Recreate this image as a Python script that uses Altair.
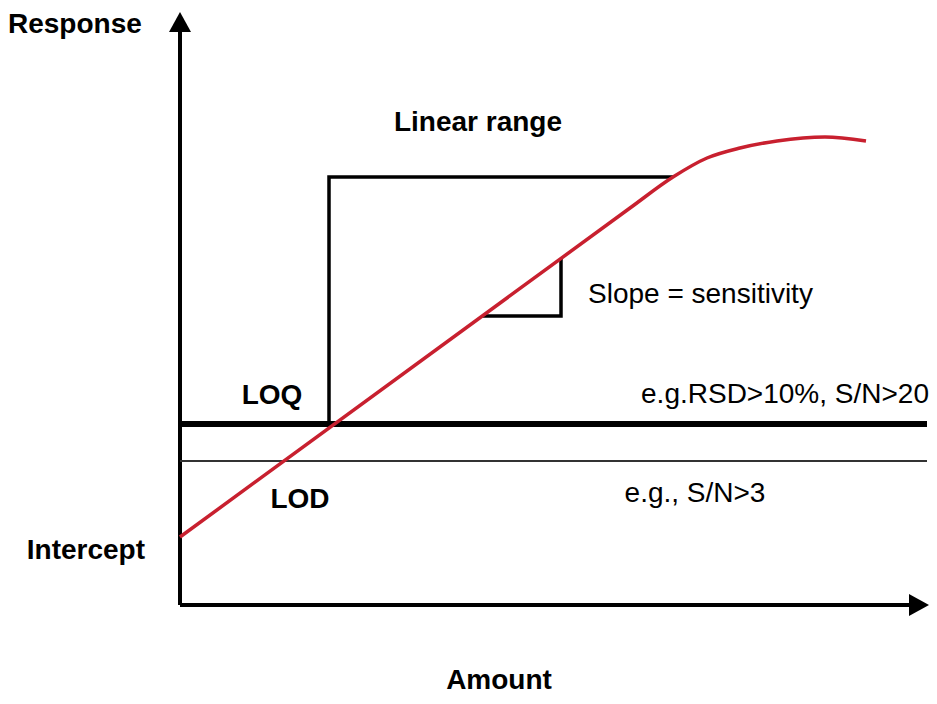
import altair as alt
import pandas as pd

# Coordinates in diagram units: amount (x) and response (y), origin at axis corner
curve_amount = [0, 450, 493, 527, 560, 597, 645, 686]
curve_response = [68, 397, 428, 447, 457, 464, 468, 464]

loq_level = 181
lod_level = 144
line_end = 747

box_x = [149, 149, 493]
box_y = [181, 428, 428]

tri_x = [381, 381, 302]
tri_y = [347, 289, 289]

axis_x_end = 735
axis_y_end = 575

labels_bold = ["Response", "Linear range", "LOQ", "LOD", "Intercept", "Amount"]
labels_bold_x = [-172, 298, 92, 120, -35, 319]
labels_bold_y = [580, 482, 209, 105, 54, -76]
labels_bold_align = ["left", "center", "center", "center", "right", "center"]

labels_reg = ["Slope = sensitivity", "e.g.RSD>10%, S/N>20", "e.g., S/N>3"]
labels_reg_x = [408, 749, 515]
labels_reg_y = [310, 210, 111]
labels_reg_align = ["left", "right", "center"]

W, H = 921, 688
xs = alt.Scale(domain=[-172, 749], nice=False, zero=False)
ys = alt.Scale(domain=[-91, 597], nice=False, zero=False)
FONT = "Liberation Sans"
RED = "#c8202f"
FS = 28


def X(f="x"):
    return alt.X(f"{f}:Q", scale=xs, axis=None)


def Y(f="y"):
    return alt.Y(f"{f}:Q", scale=ys, axis=None)


axes_df = pd.DataFrame({"x": [0, 0], "y": [0, 0], "x2": [0, axis_x_end], "y2": [axis_y_end, 0]})
axes = alt.Chart(axes_df).mark_rule(color="black", strokeWidth=4).encode(
    x=X(), y=Y(), x2="x2:Q", y2="y2:Q")

arrow_up = alt.Chart(pd.DataFrame({"x": [0], "y": [583]})).mark_point(
    shape="M0,-1L1.1,1L-1.1,1Z", filled=True, color="black", size=400, opacity=1
).encode(x=X(), y=Y())
arrow_right = alt.Chart(pd.DataFrame({"x": [739], "y": [0]})).mark_point(
    shape="M1,0L-1,-1.1L-1,1.1Z", filled=True, color="black", size=400, opacity=1
).encode(x=X(), y=Y())

loq = alt.Chart(pd.DataFrame({"x": [0], "x2": [line_end], "y": [loq_level]})).mark_rule(
    color="black", strokeWidth=6).encode(x=X(), x2="x2:Q", y=Y())
lod = alt.Chart(pd.DataFrame({"x": [0], "x2": [line_end], "y": [lod_level]})).mark_rule(
    color="#333333", strokeWidth=2).encode(x=X(), x2="x2:Q", y=Y())

box = alt.Chart(pd.DataFrame({"x": box_x, "y": box_y, "o": range(len(box_x))})).mark_line(
    color="black", strokeWidth=3.5, strokeJoin="miter").encode(x=X(), y=Y(), order="o:Q")
tri = alt.Chart(pd.DataFrame({"x": tri_x, "y": tri_y, "o": range(len(tri_x))})).mark_line(
    color="black", strokeWidth=3.5, strokeJoin="miter").encode(x=X(), y=Y(), order="o:Q")

curve = alt.Chart(pd.DataFrame({"x": curve_amount, "y": curve_response})).mark_line(
    color=RED, strokeWidth=3.5, interpolate="monotone").encode(x=X(), y=Y())

layers = [axes, arrow_up, arrow_right, lod, loq, box, tri, curve]

for t, x, y, a in zip(labels_bold, labels_bold_x, labels_bold_y, labels_bold_align):
    layers.append(alt.Chart(pd.DataFrame({"x": [x], "y": [y], "t": [t]})).mark_text(
        font=FONT, fontSize=FS, fontWeight="bold", align=a, baseline="middle", color="black"
    ).encode(x=X(), y=Y(), text="t:N"))
for t, x, y, a in zip(labels_reg, labels_reg_x, labels_reg_y, labels_reg_align):
    layers.append(alt.Chart(pd.DataFrame({"x": [x], "y": [y], "t": [t]})).mark_text(
        font=FONT, fontSize=FS, align=a, baseline="middle", color="black"
    ).encode(x=X(), y=Y(), text="t:N"))

chart = alt.layer(*layers).properties(
    width=W, height=H, padding=0, autosize="none", background="white"
).configure_view(stroke=None)

chart.save("out.html", embed_options={"renderer": "svg", "actions": False})
